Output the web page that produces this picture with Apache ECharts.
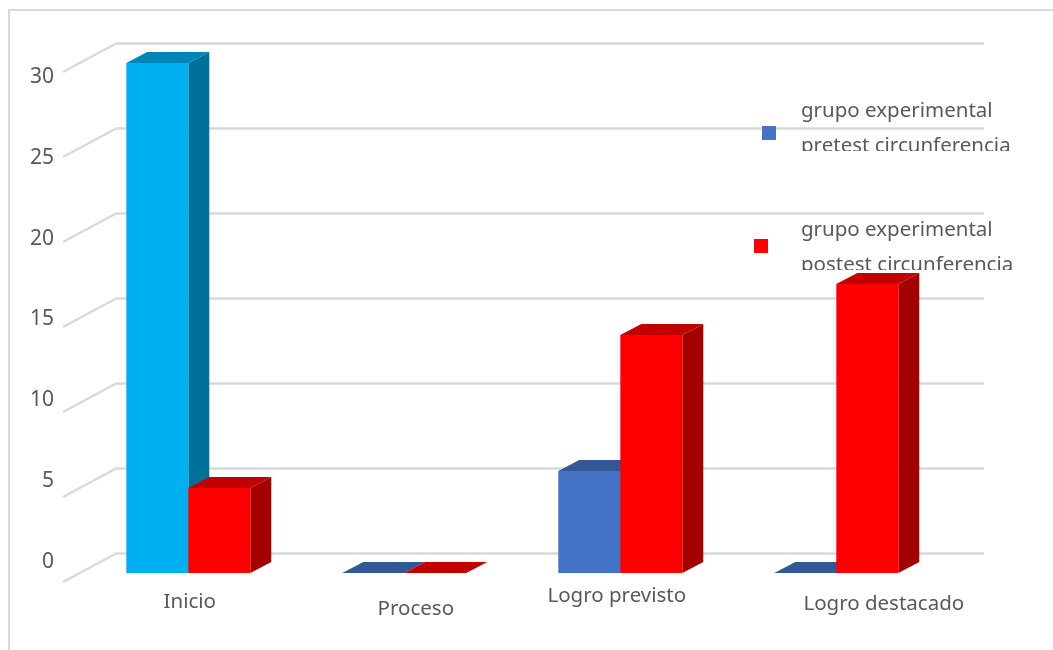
<!DOCTYPE html>
<html>
<head>
<meta charset="utf-8">
<style>html,body{margin:0;padding:0;background:#fff}#chart{width:1053px;height:650px}</style>
<script src="https://cdn.jsdelivr.net/npm/echarts@6/dist/echarts.min.js"></script>
</head>
<body>
<div id="chart"></div>
<script>
// Pretest / postest results per achievement level
const categories = ['Inicio', 'Proceso', 'Logro previsto', 'Logro destacado'];
const pretest = [30, 0, 6, 0];
const postest = [5, 0, 14, 17];
const tickValues = [0, 5, 10, 15, 20, 25, 30];
const pretestName = 'grupo experimental\npretest circunferencia';
const postestName = 'grupo experimental\npostest circunferencia';

const BLUE = '#4472C4', CYAN = '#00B0F0', RED = '#FF0000';
const pretestColors = [CYAN, BLUE, BLUE, BLUE];
const GRID_LINE = '#D9D9D9', TEXT = '#595959', FONT = '"Noto Sans", sans-serif';
const TEXT_SIZE = 20.5;

// Oblique projection of the 3D look
const DEPTH_X = 21, DEPTH_Y = 11;
const WALL_X = 54, WALL_Y = 29;
const BAR_RATIO = 62 / 216;

function shade(hex, k) {
  const n = parseInt(hex.slice(1), 16);
  const c = [n >> 16 & 255, n >> 8 & 255, n & 255].map(v => Math.round(v * k));
  return 'rgb(' + c.join(',') + ')';
}

// Draws one box: front face, top face and right side face
function boxRenderer(side, colorOf) {
  return function (params, api) {
    const i = api.value(0);
    const top = api.coord([i, api.value(1)]);
    const base = api.coord([i, 0]);
    const w = api.size([1, 0])[0] * BAR_RATIO;
    const x0 = side < 0 ? top[0] - w : top[0];
    const x1 = x0 + w;
    const color = colorOf(i);
    const children = [];
    if (base[1] - top[1] > 0) {
      children.push({
        type: 'polygon',
        shape: { points: [[x1, top[1]], [x1 + DEPTH_X, top[1] - DEPTH_Y], [x1 + DEPTH_X, base[1] - DEPTH_Y], [x1, base[1]]] },
        style: { fill: shade(color, 0.64) }
      });
      children.push({
        type: 'rect',
        shape: { x: x0, y: top[1], width: w, height: base[1] - top[1] },
        style: { fill: color }
      });
    }
    children.push({
      type: 'polygon',
      shape: { points: [[x0, top[1]], [x0 + DEPTH_X, top[1] - DEPTH_Y], [x1 + DEPTH_X, top[1] - DEPTH_Y], [x1, top[1]]] },
      style: { fill: shade(color, 0.76) }
    });
    return { type: 'group', children };
  };
}

const toPoints = values => values.map((v, i) => [i, v]);

// Two-line legend text whose line boxes can be sized separately
const twoLines = name => {
  const parts = name.split('\n');
  return '{first|' + parts[0] + '}\n{second|' + parts[1] + '}';
};
const legendRich = (firstHeight, secondHeight) => {
  const base = { color: TEXT, fontFamily: FONT, fontSize: TEXT_SIZE };
  return {
    first: Object.assign({ lineHeight: firstHeight }, base),
    second: Object.assign({ lineHeight: secondHeight }, base)
  };
};

const chart = echarts.init(document.getElementById('chart'), null, { renderer: 'canvas' });
chart.setOption({
  animation: false,
  backgroundColor: '#fff',
  grid: [
    { left: 80.3, width: 864, top: 63, height: 510 }, // bars
    { left: 117, width: 867, top: 43, height: 510 },  // back wall
    { left: 54, width: 10, top: 77, height: 485 }     // value labels
  ],
  xAxis: [
    {
      type: 'category', gridIndex: 0, z: 5,
      data: [
        { value: categories[0], textStyle: { padding: [6, 0, 0, 3] } },
        { value: categories[1], textStyle: { padding: [13, 0, 0, 23] } },
        { value: categories[2], textStyle: { padding: [0, 7, 0, 0] } },
        { value: categories[3], textStyle: { padding: [8, 0, 0, 95] } }
      ],
      axisLine: { show: false }, axisTick: { show: false },
      axisLabel: { margin: 13, color: TEXT, fontFamily: FONT, fontSize: TEXT_SIZE, interval: 0 }
    },
    { type: 'value', gridIndex: 1, show: false, min: 0, max: 1 },
    { type: 'value', gridIndex: 2, show: false, min: 0, max: 1 }
  ],
  yAxis: [
    { type: 'value', gridIndex: 0, min: 0, max: 30, interval: 5, show: false },
    {
      type: 'value', gridIndex: 1, min: 0, max: 30, interval: 5,
      axisLine: { show: false }, axisTick: { show: false }, axisLabel: { show: false },
      splitLine: { lineStyle: { color: GRID_LINE, width: 2.5 } }
    },
    {
      type: 'value', gridIndex: 2, min: 0, max: 30, interval: 5,
      axisLine: { show: false }, axisTick: { show: false }, splitLine: { show: false },
      axisLabel: { margin: 0, color: TEXT, fontFamily: FONT, fontSize: 21 }
    }
  ],
  legend: [
    {
      data: [pretestName], left: 762, top: 101, padding: 0, icon: 'rect', z: 4,
      itemWidth: 14, itemHeight: 14, selectedMode: false, formatter: twoLines,
      textStyle: { color: TEXT, fontFamily: FONT, fontSize: TEXT_SIZE, padding: [0, 0, 0, 20], rich: legendRich(27, 43) }
    },
    {
      data: [postestName], left: 754, top: 220, padding: 0, icon: 'rect', z: 4,
      itemWidth: 14, itemHeight: 14, selectedMode: false, formatter: twoLines,
      textStyle: { color: TEXT, fontFamily: FONT, fontSize: TEXT_SIZE, padding: [0, 0, 0, 28], rich: legendRich(39, 31) }
    }
  ],
  graphic: [
    // Chart frame, open past the right and bottom edges
    { type: 'rect', z: 0, silent: true, shape: { x: 9, y: 10, width: 1100, height: 700 },
      style: { fill: 'none', stroke: GRID_LINE, lineWidth: 2 } },
    // Legend text boxes cut their second line short; the boxes sit under the bars
    { type: 'rect', z: 5, silent: true, shape: { x: 795, y: 151, width: 240, height: 24 }, style: { fill: '#fff' } },
    { type: 'rect', z: 5, silent: true, shape: { x: 795, y: 270, width: 240, height: 9 }, style: { fill: '#fff' } }
  ],
  series: [
    {
      // Slanted floor/side wall lines joining the value ticks to the back wall
      type: 'custom', xAxisIndex: 1, yAxisIndex: 1, silent: true, z: 1,
      data: tickValues.map(v => [0, v]),
      encode: { x: 0, y: 1 },
      renderItem(params, api) {
        const p = api.coord([0, api.value(1)]);
        return {
          type: 'line',
          shape: { x1: p[0] - WALL_X, y1: p[1] + WALL_Y, x2: p[0], y2: p[1] },
          style: { stroke: GRID_LINE, lineWidth: 2.5 }
        };
      }
    },
    {
      name: pretestName, type: 'custom', xAxisIndex: 0, yAxisIndex: 0, z: 6,
      itemStyle: { color: BLUE },
      data: toPoints(pretest), encode: { x: 0, y: 1 },
      renderItem: boxRenderer(-1, i => pretestColors[i])
    },
    {
      name: postestName, type: 'custom', xAxisIndex: 0, yAxisIndex: 0, z: 7,
      itemStyle: { color: RED },
      data: toPoints(postest), encode: { x: 0, y: 1 },
      renderItem: boxRenderer(1, () => RED)
    }
  ]
});
</script>
</body>
</html>
